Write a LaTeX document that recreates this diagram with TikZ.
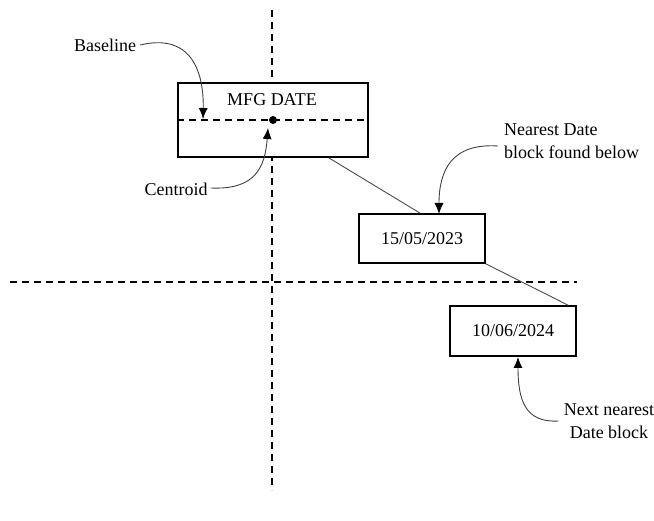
\documentclass[tikz,border=0pt]{standalone}
\usepackage{fontspec}
\setmainfont{Liberation Serif}
\usetikzlibrary{arrows.meta,calc}
\begin{document}
\begin{tikzpicture}[x=1pt,y=-1pt,
  axisline/.style={line width=1.8pt,dash pattern=on 7pt off 5pt},
  datebox/.style={draw,line width=1.8pt,fill=white,minimum width=126pt,minimum height=49pt,inner sep=0pt},
  link/.style={draw=black!70,line width=0.9pt},
  callout/.style={draw=black!75,line width=0.9pt,-{Latex[length=11pt,width=9pt,color=black]}},
  lbl/.style={font=\fontsize{18}{23}\selectfont,inner sep=0pt}]
\useasboundingbox (0,0) rectangle (654,521);
% axes
\coordinate (vt) at (272,10);
\coordinate (vb) at (272,490);
\coordinate (hl) at (10,282);
\coordinate (hr) at (577,282);
\draw[axisline] (vt) -- (vb);
\draw[axisline] (hl) -- (hr);
% boxes
\node[datebox,minimum width=190pt,minimum height=74pt] (mfg) at (273,120) {};
\node[lbl] (mfgtxt) at (272,100) {MFG DATE};
\draw[axisline] (mfg.west) -- (mfg.east);
\fill (mfg.center) circle (4pt);
\node[datebox,lbl,minimum width=126pt,minimum height=49pt] (d1) at (422,238.5) {15/05/2023};
\node[datebox,lbl,minimum width=126pt,minimum height=50pt] (d2) at (513,331) {10/06/2024};
% connectors
\draw[link] ($(mfg.south east)+(-40,0)$) -- ($(d1.north)+(-2,0)$);
\draw[link] (d1.south east) -- ($(d2.north east)+(-9,0)$);
% labels
\node[lbl] (base) at (105,45) {Baseline};
\node[lbl] (cent) at (176,189) {Centroid};
\node[lbl,align=left,anchor=west] (near) at (504,141) {Nearest Date\\block found below};
\node[lbl,align=center] (next) at (609,421) {Next nearest\\Date block};
% callouts
\draw[callout] (base.east) ++(4,0) .. controls (190,33) and (204,70) .. (203,119);
\draw[callout] (cent.east) ++(3,-1) .. controls (255,190) and (265,168) .. (268,128);
\draw[callout] (near.west) ++(-6,5) .. controls (452,143) and (439,170) .. (439,214);
\draw[callout] (next.west) ++(-5,0) .. controls (525,423) and (518,400) .. (518,357);
\end{tikzpicture}
\end{document}
